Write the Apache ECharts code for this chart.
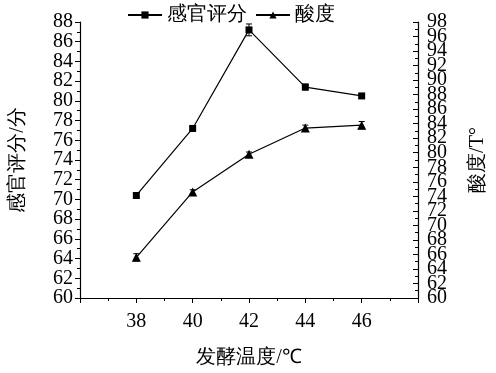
<!DOCTYPE html>
<html>
<head>
<meta charset="utf-8">
<script src="https://cdn.jsdelivr.net/npm/echarts@6/dist/echarts.min.js"></script>
<style>html,body{margin:0;padding:0;background:#fff;}#c{width:496px;height:373px;}</style>
</head>
<body>
<div id="c"></div>
<script>
var temperatures = [38, 40, 42, 44, 46];
var sensoryScore = [70.4, 77.2, 87.2, 81.4, 80.5];
var sensoryErr = [0.3, 0.2, 0.6, 0.3, 0.2];
var acidity = [65.6, 74.6, 79.8, 83.4, 83.8];
var acidityErr = [0.5, 0.3, 0.3, 0.4, 0.5];
var xTickLabels = ['38', '40', '42', '44', '46'];
var leftEndLabels = [60, 88];
var rightEndLabels = [60, 98];

var FONT = 'Liberation Serif';

function pairs(xs, ys) { return xs.map(function (x, i) { return [x, ys[i]]; }); }
function errData(xs, ys, es) { return xs.map(function (x, i) { return [x, ys[i] - es[i], ys[i] + es[i]]; }); }

function errRender(params, api) {
  var x = api.value(0);
  var lo = api.coord([x, api.value(1)]);
  var hi = api.coord([x, api.value(2)]);
  var w = 3;
  var st = { stroke: '#000', lineWidth: 1 };
  return {
    type: 'group',
    children: [
      { type: 'line', shape: { x1: lo[0], y1: lo[1], x2: hi[0], y2: hi[1] }, style: st },
      { type: 'line', shape: { x1: lo[0] - w, y1: lo[1], x2: lo[0] + w, y2: lo[1] }, style: st },
      { type: 'line', shape: { x1: hi[0] - w, y1: hi[1], x2: hi[0] + w, y2: hi[1] }, style: st }
    ]
  };
}

function overlayAxis(pos, min, max, vals, margin) {
  return {
    type: 'value', min: min, max: max, position: pos,
    axisLine: { show: false }, axisTick: { show: false }, splitLine: { show: false },
    axisLabel: { customValues: vals, margin: margin, fontFamily: FONT, fontSize: 20, color: '#000', showMinLabel: true, showMaxLabel: true }
  };
}

var chart = echarts.init(document.getElementById('c'), null, { renderer: 'canvas' });
chart.setOption({
  animation: false,
  backgroundColor: '#fff',
  textStyle: { fontFamily: FONT, color: '#000' },
  legend: {
    data: ['感官评分', '酸度'],
    left: 122, top: 0,
    itemWidth: 34, itemHeight: 9, itemGap: 8,
    textStyle: { fontFamily: FONT, fontSize: 20, color: '#000' }
  },
  grid: { left: 74, right: 65, top: 22, bottom: 74 },
  xAxis: {
    type: 'value', min: 36, max: 48, interval: 2,
    name: '发酵温度/℃', nameLocation: 'middle', nameGap: 50,
    nameTextStyle: { fontFamily: FONT, fontSize: 20, color: '#000' },
    axisLine: { show: true, lineStyle: { color: '#000', width: 1.2 } },
    axisTick: { show: true, length: 5, lineStyle: { color: '#000' } },
    minorTick: { show: true, splitNumber: 2, length: 3, lineStyle: { color: '#000' } },
    splitLine: { show: false },
    axisLabel: {
      margin: 14, fontFamily: FONT, fontSize: 20, color: '#000',
      formatter: function (v) { var i = temperatures.indexOf(v); return i >= 0 ? xTickLabels[i] : ''; }
    }
  },
  yAxis: [
    {
      type: 'value', min: 60, max: 88, interval: 2, position: 'left',
      name: '感官评分/分', nameLocation: 'middle', nameGap: 52, nameRotate: 90,
      nameTextStyle: { fontFamily: FONT, fontSize: 20, color: '#000' },
      axisLine: { show: true, lineStyle: { color: '#000', width: 1.2 } },
      axisTick: { show: true, length: 5, lineStyle: { color: '#000' } },
      minorTick: { show: true, splitNumber: 2, length: 3, lineStyle: { color: '#000' } },
      splitLine: { show: false },
      axisLabel: { margin: 7, fontFamily: FONT, fontSize: 20, color: '#000', hideOverlap: false, showMinLabel: false, showMaxLabel: false }
    },
    {
      type: 'value', min: 60, max: 98, interval: 2, position: 'right',
      name: '酸度/T°', nameLocation: 'middle', nameGap: 50, nameRotate: 90,
      nameTextStyle: { fontFamily: FONT, fontSize: 20, color: '#000' },
      axisLine: { show: true, lineStyle: { color: '#000', width: 1.2 } },
      axisTick: { show: true, inside: true, length: 5, lineStyle: { color: '#000' } },
      minorTick: { show: true, splitNumber: 2, length: 3, lineStyle: { color: '#000' } },
      splitLine: { show: false },
      axisLabel: { margin: 9, fontFamily: FONT, fontSize: 20, color: '#000', hideOverlap: false, showMinLabel: false, showMaxLabel: false }
    },
    overlayAxis('left', 60, 88, leftEndLabels, 7),
    overlayAxis('right', 60, 98, rightEndLabels, 9)
  ],
  series: [
    {
      name: '感官评分', type: 'line', yAxisIndex: 0,
      data: pairs(temperatures, sensoryScore),
      symbol: 'rect', symbolSize: 7,
      itemStyle: { color: '#000' },
      lineStyle: { color: '#000', width: 1.2 },
      z: 3
    },
    {
      name: '酸度', type: 'line', yAxisIndex: 1,
      data: pairs(temperatures, acidity),
      symbol: 'triangle', symbolSize: 9,
      itemStyle: { color: '#000' },
      lineStyle: { color: '#000', width: 1.2 },
      z: 3
    },
    {
      name: 'errS', type: 'custom', yAxisIndex: 0,
      data: errData(temperatures, sensoryScore, sensoryErr),
      renderItem: errRender, encode: { x: 0, y: [1, 2] }, z: 2, silent: true
    },
    {
      name: 'errA', type: 'custom', yAxisIndex: 1,
      data: errData(temperatures, acidity, acidityErr),
      renderItem: errRender, encode: { x: 0, y: [1, 2] }, z: 2, silent: true
    }
  ]
});
</script>
</body>
</html>
